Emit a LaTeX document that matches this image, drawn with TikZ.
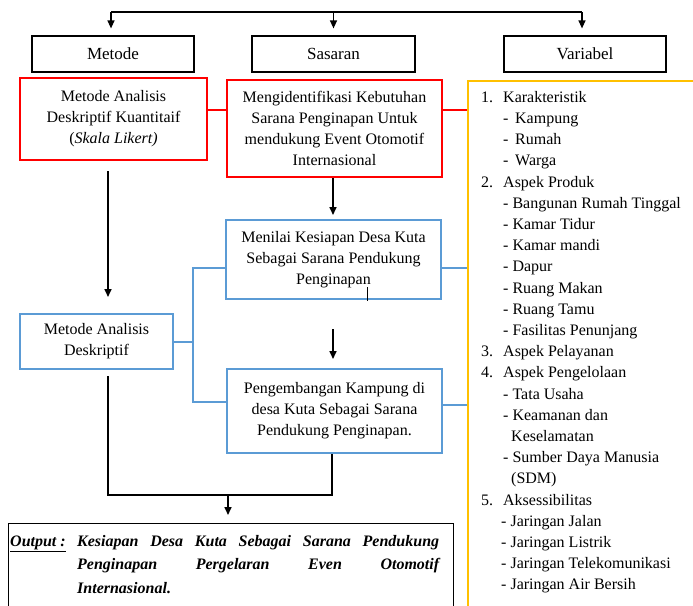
\documentclass[tikz,border=0pt]{standalone}
\usepackage{fontspec}
\setmainfont{Liberation Serif}
\usetikzlibrary{arrows.meta}
\definecolor{boxred}{RGB}{255,0,0}
\definecolor{boxblue}{RGB}{91,155,213}
\definecolor{boxgold}{RGB}{255,192,0}

\begin{document}
\begin{tikzpicture}[x=1pt,y=-1pt,
   every node/.style={font=\fontsize{16}{21}\selectfont,align=center,inner sep=0pt},
   headbox/.style={draw,line width=1.2pt,minimum width=162pt,minimum height=36pt,font=\fontsize{17}{21}\selectfont},
   redbox/.style={draw=boxred,line width=2pt,minimum width=215pt},
   bluebox/.style={draw=boxblue,line width=2pt,minimum width=215pt},
   redline/.style={draw=boxred,line width=2pt},
   blueline/.style={draw=boxblue,line width=2pt},
   arr/.style={line width=1.6pt,-{Triangle[width=7pt,length=8pt]}}]
       \useasboundingbox (0,0) rectangle (693,605);
       % heads
       \node[headbox] (metode) at (113,54) {Metode};
       \node[headbox,minimum width=163pt] (sasaran) at (333.5,54) {Sasaran};
       \node[headbox] (variabel) at (585,54) {Variabel};
       \coordinate (tl) at (111,12);
       \coordinate (tr) at (582,12);
       \draw[line width=1.2pt] (tl) -- (tr);
       \draw[arr,line width=1.2pt,shorten >=7pt] (tl) -- (metode.north -| tl);
       \draw[arr,line width=1.2pt,shorten >=7pt] (sasaran.north |- tl) -- (sasaran.north);
       \draw[arr,line width=1.2pt,shorten >=7pt] (tr) -- (variabel.north -| tr);
       % boxes
       \node[redbox,minimum width=187pt,minimum height=82pt] (mak) at (113.5,119)
            {Metode Analisis\\Deskriptif Kuantitaif\\(\textit{Skala Likert)}};
       \node[redbox,minimum height=97pt] (identifikasi) at (334.5,128.5)
            {Mengidentifikasi Kebutuhan\\Sarana Penginapan Untuk\\mendukung Event Otomotif\\Internasional};
       \node[bluebox,minimum height=79pt] (menilai) at (333.5,259.5)
            {Menilai Kesiapan Desa Kuta\\Sebagai Sarana Pendukung\\Penginapan};
       \node[bluebox,minimum width=153pt,minimum height=55pt] (mad) at (96.5,341.5)
            {Metode Analisis\\Deskriptif};
       \node[bluebox,minimum height=84pt] (kembang) at (334.5,411)
            {Pengembangan Kampung di\\desa Kuta Sebagai Sarana\\Pendukung Penginapan.};
       \node[draw=boxgold,line width=2pt,minimum width=260pt,minimum height=560pt,anchor=north west] (varframe) at (467,80) {};
       \node[anchor=north west,align=left,font=\fontsize{16}{21.2}\selectfont] (varlist) at (481,91) {%
            \makebox[22pt][l]{1.}Karakteristik\\
            \hspace*{22pt}-\,~Kampung\\
            \hspace*{22pt}-\,~Rumah\\
            \hspace*{22pt}-\,~Warga\\
            \makebox[22pt][l]{2.}Aspek Produk\\
            \hspace*{22pt}- Bangunan Rumah Tinggal\\
            \hspace*{22pt}- Kamar Tidur\\
            \hspace*{22pt}- Kamar mandi\\
            \hspace*{22pt}- Dapur\\
            \hspace*{22pt}- Ruang Makan\\
            \hspace*{22pt}- Ruang Tamu\\
            \hspace*{22pt}- Fasilitas Penunjang\\
            \makebox[22pt][l]{3.}Aspek Pelayanan\\
            \makebox[22pt][l]{4.}Aspek Pengelolaan\\
            \hspace*{22pt}- Tata Usaha\\
            \hspace*{22pt}- Keamanan dan\\
            \hspace*{30pt}Keselamatan\\
            \hspace*{22pt}- Sumber Daya Manusia\\
            \hspace*{30pt}(SDM)\\
            \makebox[22pt][l]{5.}Aksessibilitas\\
            \hspace*{20pt}- Jaringan Jalan\\
            \hspace*{20pt}- Jaringan Listrik\\
            \hspace*{20pt}- Jaringan Telekomunikasi\\
            \hspace*{20pt}- Jaringan Air Bersih};
       \node[draw,line width=1pt,minimum width=445pt,minimum height=120pt,anchor=north west] (output) at (8,523) {};
       \node[anchor=north west,align=left,font=\fontsize{16}{23.5}\selectfont\bfseries\itshape] (outtext) at (10,535) {%
            \makebox[67pt][l]{\underline{Output :}}\makebox[362pt][s]{Kesiapan Desa Kuta Sebagai Sarana Pendukung}\\
            \hspace*{67pt}\makebox[362pt][s]{Penginapan Pergelaran Even Otomotif}\\
            \hspace*{67pt}Internasional.};
       % red links
       \coordinate (ry) at (0,110);
       \draw[redline] (mak.east |- ry) -- (identifikasi.west |- ry);
       \draw[redline] (identifikasi.east |- ry) -- (varframe.west |- ry);
       % blue links
       \coordinate (bx) at (193,0);
       \coordinate (y1) at (0,268);
       \coordinate (y2) at (0,402);
       \coordinate (y3) at (0,405);
       \draw[blueline] (mad.east) -- (mad.east -| bx);
       \draw[blueline] (menilai.west |- y1) -| (bx |- y2) -- (kembang.west |- y2);
       \draw[blueline] (menilai.east |- y1) -- (varframe.west |- y1);
       \draw[blueline] (kembang.east |- y3) -- (varframe.west |- y3);
       % black arrows
       \coordinate (lx) at (108,0);
       \coordinate (mx) at (333,0);
       \draw[arr,shorten <=10pt,shorten >=16pt] (mak.south -| lx) -- (mad.north -| lx);
       \draw[arr,shorten >=4pt] (identifikasi.south -| mx) -- (menilai.north -| mx);
       \draw[arr,shorten <=29pt,shorten >=9pt] (menilai.south -| mx) -- (kembang.north -| mx);
       \draw[line width=1pt] (367,287) -- (367,301);
       \coordinate (bl) at (108,495);
       \coordinate (br) at (332,495);
       \coordinate (bm) at (228,495);
       \draw[line width=1.6pt] (mad.south -| bl) ++(0,6) -- (bl) -- (br) -- (kembang.south -| br);
       \draw[arr,shorten >=8pt] (bm) -- (output.north -| bm);
\end{tikzpicture}
\end{document}
